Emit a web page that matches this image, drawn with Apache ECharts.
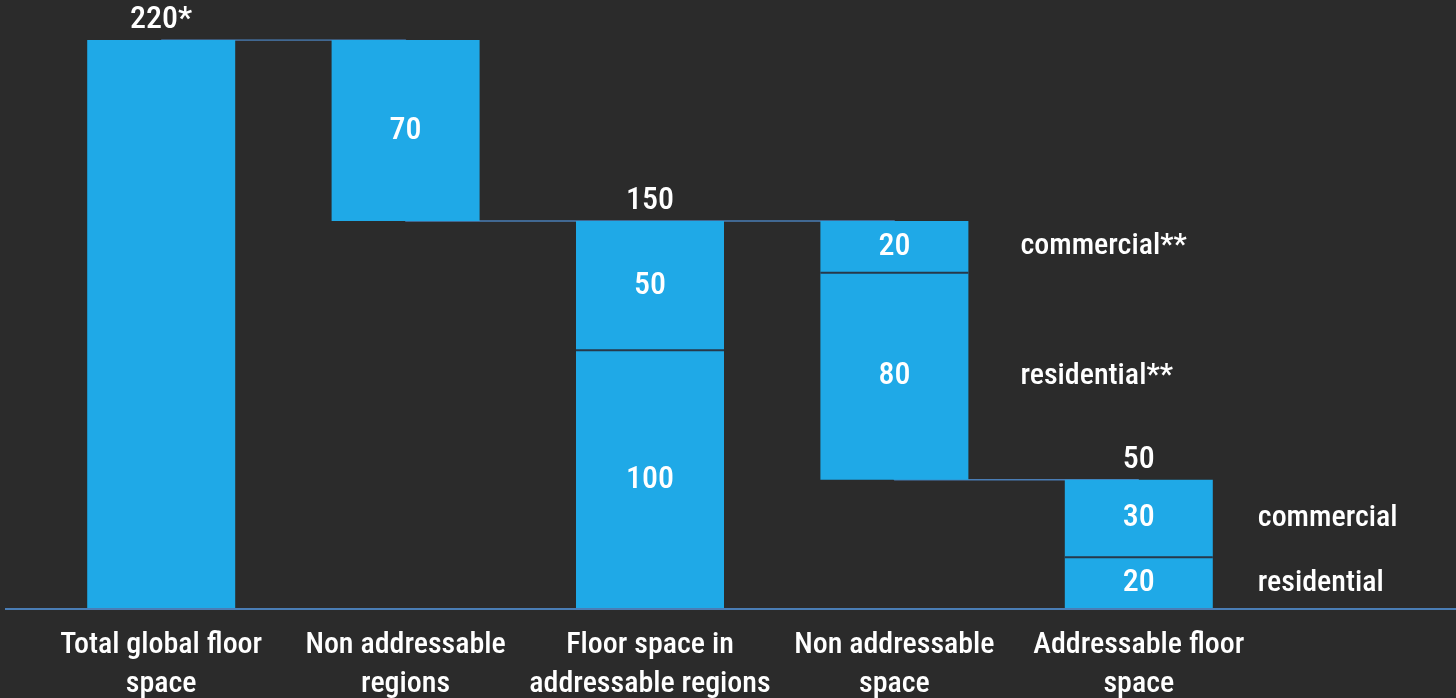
<!DOCTYPE html>
<html>
<head>
<meta charset="utf-8">
<script src="https://cdn.jsdelivr.net/npm/echarts@6/dist/echarts.min.js"></script>
<style>
html,body{margin:0;padding:0;background:#2b2b2b;overflow:hidden;}
#c{width:1456px;height:698px;}
</style>
</head>
<body>
<div id="c"></div>
<script>
var categories = ['Total global floor\nspace', 'Non addressable\nregions', 'Floor space in\naddressable regions', 'Non addressable\nspace', 'Addressable floor\nspace'];
var baseValues = [0, 150, 0, 50, 0];
var lowerValues = [220, 70, 100, 80, 20];
var upperValues = ['-', '-', 50, 20, 30];
var totalLabels = [[0, 220, '220*'], [2, 150, '150'], [4, 50, '50']];
var connectorLevels = [220, 220, 150, 150, 50];
var sideLabels = [[3, 140, 'commercial**'], [3, 90, 'residential**'], [4, 35, 'commercial'], [4, 10, 'residential']];

var FONT = '"Roboto Condensed", "Liberation Sans Narrow", "DejaVu Sans Condensed", sans-serif';
var WEIGHT = 500;
var BLUE = '#1fa9e7';
var BG = '#2b2b2b';

var chart = echarts.init(document.getElementById('c'));
var option = {
  backgroundColor: BG,
  animation: false,
  grid: {left: 39, right: 195, top: 40, bottom: 89, containLabel: false, outerBoundsMode: 'none'},
  xAxis: {
    type: 'category',
    data: categories,
    axisLine: {show: false},
    axisTick: {show: false},
    axisLabel: {color: '#ffffff', fontFamily: FONT, fontWeight: WEIGHT, fontSize: 30, lineHeight: 39, margin: 17, interval: 0}
  },
  yAxis: {type: 'value', min: 0, max: 220, show: false, splitLine: {show: false}},
  series: [
    {
      type: 'line', data: connectorLevels, step: 'start', symbol: 'none', z: 1,
      lineStyle: {color: '#4a7db5', width: 1.5}
    },
    {
      type: 'bar', stack: 'w', data: baseValues, barWidth: 148, z: 2,
      itemStyle: {color: 'transparent'}
    },
    {
      type: 'bar', stack: 'w', data: lowerValues, barWidth: 148, z: 2,
      itemStyle: {color: BLUE},
      label: {
        show: true, position: 'inside', color: '#ffffff', fontFamily: FONT, fontWeight: WEIGHT, fontSize: 32,
        formatter: function (p) { return p.dataIndex === 0 ? '' : p.value; }
      }
    },
    {
      type: 'bar', stack: 'w', data: upperValues, barWidth: 148, z: 3,
      itemStyle: {color: BLUE},
      label: {show: true, position: 'inside', color: '#ffffff', fontFamily: FONT, fontWeight: WEIGHT, fontSize: 32}
    },
    {
      type: 'scatter', data: totalLabels, symbolSize: 0, z: 4, silent: true,
      itemStyle: {opacity: 1},
      label: {show: true, position: 'top', distance: 4, color: '#ffffff', fontFamily: FONT, fontWeight: WEIGHT, fontSize: 32,
        formatter: function (p) { return p.value[2]; }}
    },
    {
      type: 'scatter', symbolSize: 0, z: 4, silent: true,
      itemStyle: {opacity: 1},
      data: sideLabels.map(function (d) {
        return {value: d, label: {offset: [d[0] === 3 ? 126 : 119, 0]}};
      }),
      label: {show: true, position: 'right', distance: 0, color: '#ffffff', fontFamily: FONT, fontWeight: WEIGHT, fontSize: 30,
        formatter: function (p) { return p.value[2]; }}
    }
  ]
};
chart.setOption(option);

// baseline & separator lines between stacked segments
var yBase = chart.convertToPixel({yAxisIndex: 0}, 0);
var seps = [[2, 100], [3, 130], [4, 20]];
var g = [{
  type: 'line', shape: {x1: 5, y1: yBase, x2: 1456, y2: yBase},
  style: {stroke: '#4a7db5', lineWidth: 2}, z: 10
}];
seps.forEach(function (s) {
  var p = chart.convertToPixel({xAxisIndex: 0, yAxisIndex: 0}, [s[0], s[1]]);
  g.push({type: 'line', shape: {x1: p[0] - 74, y1: p[1], x2: p[0] + 74, y2: p[1]},
    style: {stroke: '#27394a', lineWidth: 2}, z: 10});
});
chart.setOption({graphic: g});
</script>
</body>
</html>
